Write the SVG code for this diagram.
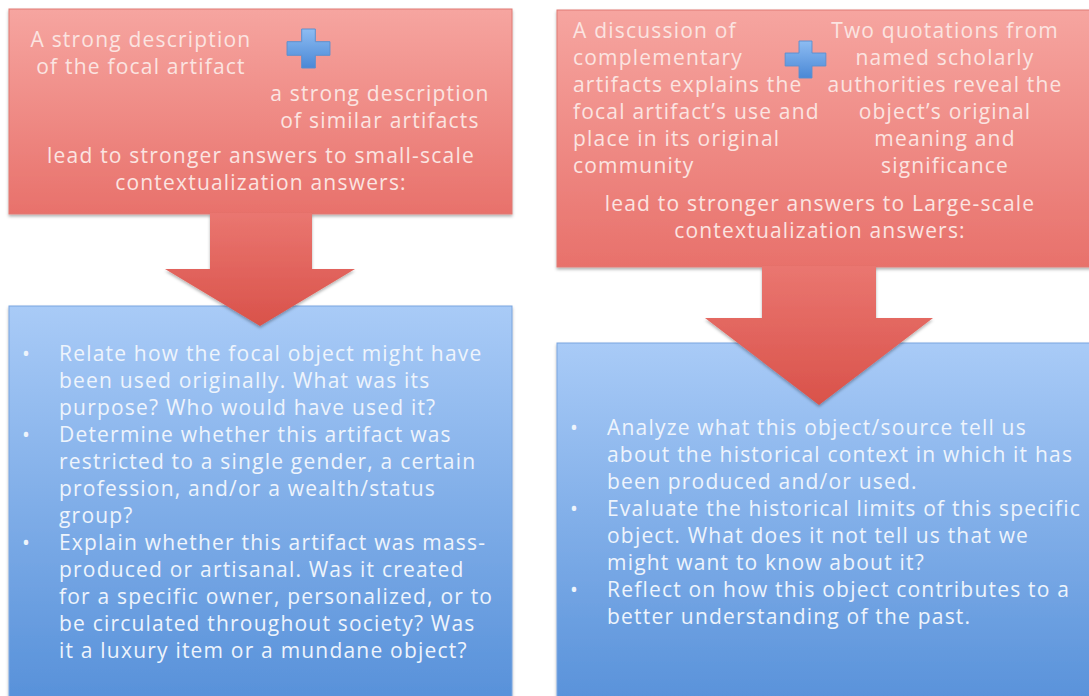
<svg xmlns="http://www.w3.org/2000/svg" width="1089" height="696" viewBox="0 0 1089 696">
<defs>
<linearGradient id="gRed" x1="0" y1="0" x2="0" y2="1"><stop offset="0" stop-color="#f6a5a0"/><stop offset="1" stop-color="#e8716b"/></linearGradient>
<linearGradient id="gArrow" x1="0" y1="0" x2="0" y2="1"><stop offset="0" stop-color="#ea7670"/><stop offset="1" stop-color="#d9524a"/></linearGradient>
<linearGradient id="gBlue" x1="0" y1="0" x2="0" y2="1"><stop offset="0" stop-color="#a9cbf7"/><stop offset="1" stop-color="#5690d9"/></linearGradient>
<linearGradient id="gPlus" x1="0" y1="0" x2="0" y2="1"><stop offset="0" stop-color="#8dbcf2"/><stop offset="1" stop-color="#4a88d6"/></linearGradient>
<filter id="sh" x="-5%" y="-5%" width="110%" height="115%"><feDropShadow dx="0" dy="2" stdDeviation="1.5" flood-color="#000" flood-opacity="0.3"/></filter>
<symbol id="plus" viewBox="0 0 44 40" overflow="visible"><path d="M15 0H29V13H44V27H29V40H15V27H0V13H15Z" fill="url(#gPlus)" stroke="#5a8fd0" stroke-width="1"/></symbol>
</defs>
<style>
text{font-family:"Open Sans","Liberation Sans",sans-serif;font-size:21px;letter-spacing:1.2px}
.r{fill:#fbe4e1}
.b{fill:#eef4fc}
.c{text-anchor:middle}
</style>
<rect width="1089" height="696" fill="#ffffff"/>
<g id="blue-left">
<rect x="9" y="306" width="503" height="400" fill="url(#gBlue)" stroke="#7aa6df" stroke-width="1" filter="url(#sh)"/>
<g class="b">
<text x="22" y="361">•</text><text x="59" y="361">Relate how the focal object might have</text>
<text x="59" y="388">been used originally. What was its</text>
<text x="59" y="415">purpose? Who would have used it?</text>
<text x="22" y="442">•</text><text x="59" y="442">Determine whether this artifact was</text>
<text x="59" y="469">restricted to a single gender, a certain</text>
<text x="59" y="496">profession, and/or a wealth/status</text>
<text x="59" y="523">group?</text>
<text x="22" y="550">•</text><text x="59" y="550">Explain whether this artifact was mass-</text>
<text x="59" y="577">produced or artisanal. Was it created</text>
<text x="59" y="604">for a specific owner, personalized, or to</text>
<text x="59" y="631">be circulated throughout society? Was</text>
<text x="59" y="658">it a luxury item or a mundane object?</text>
</g>
</g>
<g id="blue-right">
<rect x="557" y="343" width="540" height="370" fill="url(#gBlue)" stroke="#7aa6df" stroke-width="1" filter="url(#sh)"/>
<g class="b">
<text x="570" y="435">•</text><text x="607" y="435">Analyze what this object/source tell us</text>
<text x="607" y="462">about the historical context in which it has</text>
<text x="607" y="489">been produced and/or used.</text>
<text x="570" y="516">•</text><text x="607" y="516">Evaluate the historical limits of this specific</text>
<text x="607" y="543">object. What does it not tell us that we</text>
<text x="607" y="570">might want to know about it?</text>
<text x="570" y="597">•</text><text x="607" y="597">Reflect on how this object contributes to a</text>
<text x="607" y="624">better understanding of the past.</text>
</g>
</g>
<g id="red-left">
<rect x="9" y="9" width="503" height="205" fill="url(#gRed)" stroke="#e07a74" stroke-width="1" filter="url(#sh)"/>
<use href="#plus" x="287" y="29" width="43" height="39"/>
<g class="r c">
<text x="141" y="47">A strong description</text>
<text x="141" y="74">of the focal artifact</text>
<text x="380" y="101">a strong description</text>
<text x="380" y="128">of similar artifacts</text>
<text x="261" y="163">lead to stronger answers to small-scale</text>
<text x="261" y="190">contextualization answers:</text>
</g>
</g>
<g id="red-right">
<rect x="557" y="10" width="540" height="257" fill="url(#gRed)" stroke="#e07a74" stroke-width="1" filter="url(#sh)"/>
<use href="#plus" x="784" y="41" width="43" height="37"/>
<g class="r">
<text x="573" y="38">A discussion of</text>
<text x="573" y="65">complementary</text>
<text x="573" y="92">artifacts explains the</text>
<text x="573" y="119">focal artifact’s use and</text>
<text x="573" y="146">place in its original</text>
<text x="573" y="173">community</text>
</g>
<g class="r c">
<text x="945" y="38">Two quotations from</text>
<text x="945" y="65">named scholarly</text>
<text x="945" y="92">authorities reveal the</text>
<text x="945" y="119">object’s original</text>
<text x="945" y="146">meaning and</text>
<text x="945" y="173">significance</text>
<text x="820" y="211">lead to stronger answers to Large-scale</text>
<text x="820" y="238">contextualization answers:</text>
</g>
</g>
<g id="connectors">
<path d="M210 213H312V269H355L260 326L165 269H210Z" fill="url(#gArrow)" filter="url(#sh)"/>
<path d="M762 266H876V318H933L819 405L705 318H762Z" fill="url(#gArrow)" filter="url(#sh)"/>
</g>
</svg>
